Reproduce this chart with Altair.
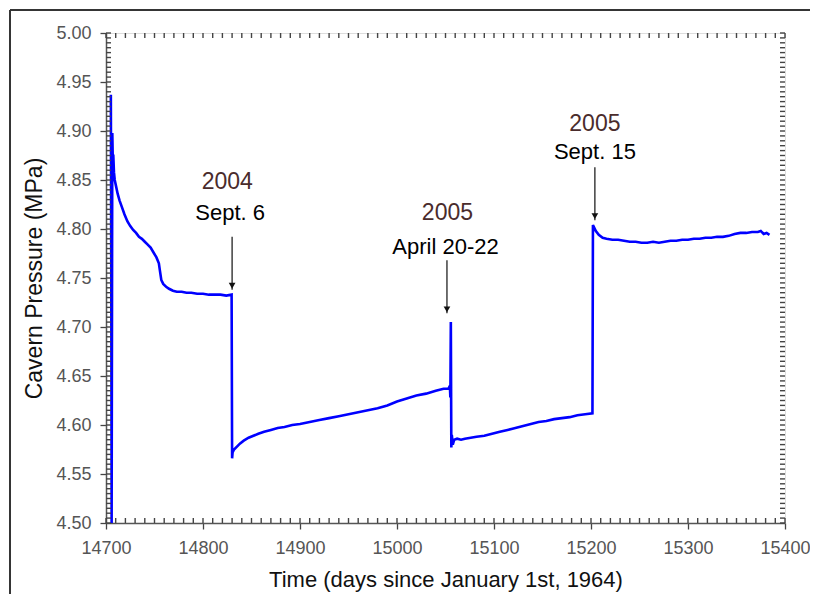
import altair as alt
import pandas as pd

# ---- data ----
days = [14705.0, 14705.4, 14705.8, 14706.5, 14707.0, 14707.5, 14708.2, 14709.0, 14710.5, 14712.0,
        14714.0, 14716.5, 14719.0, 14722.0, 14725.0, 14728.0, 14731.0, 14734.0, 14737.0, 14740.0,
        14743.0, 14746.0, 14749.0, 14752.0, 14754.5, 14755.5, 14757.0, 14759.0, 14762.0, 14765.0,
        14769.0, 14773.0, 14778.0, 14783.0, 14788.0, 14794.0, 14800.0, 14806.0, 14812.0, 14818.0,
        14824.0, 14829.5, 14830.0, 14830.5, 14832.0, 14835.0, 14838.0, 14842.0, 14847.0, 14852.0,
        14857.0, 14863.0, 14870.0, 14877.0, 14884.0, 14892.0, 14900.0, 14910.0, 14920.0, 14930.0,
        14940.0, 14950.0, 14960.0, 14970.0, 14980.0, 14990.0, 15000.0, 15010.0, 15020.0, 15030.0,
        15040.0, 15048.0, 15053.0, 15054.5, 15055.0, 15055.5, 15056.0, 15056.5, 15057.5, 15059.0,
        15062.0, 15066.0, 15070.0, 15076.0, 15082.0, 15090.0, 15098.0, 15106.0, 15114.0, 15122.0,
        15130.0, 15138.0, 15146.0, 15154.0, 15162.0, 15170.0, 15178.0, 15186.0, 15194.0, 15201.5,
        15202.0, 15203.0, 15205.0, 15208.0, 15212.0, 15216.0, 15222.0, 15228.0, 15234.0, 15240.0,
        15246.0, 15252.0, 15258.0, 15264.0, 15270.0, 15276.0, 15282.0, 15288.0, 15294.0, 15300.0,
        15306.0, 15312.0, 15318.0, 15324.0, 15330.0, 15336.0, 15342.0, 15348.0, 15354.0, 15360.0,
        15366.0, 15372.0, 15375.0, 15378.0, 15381.0, 15384.0]
pressure = [4.937, 4.765, 4.500, 4.898, 4.870, 4.876, 4.858, 4.850, 4.843, 4.836,
            4.829, 4.822, 4.815, 4.808, 4.803, 4.799, 4.796, 4.792, 4.790, 4.787,
            4.784, 4.781, 4.776, 4.771, 4.765, 4.758, 4.748, 4.744, 4.741, 4.739,
            4.737, 4.736, 4.736, 4.735, 4.735, 4.734, 4.734, 4.733, 4.733, 4.733,
            4.732, 4.733, 4.566, 4.572, 4.575, 4.578, 4.581, 4.584, 4.587, 4.589,
            4.591, 4.593, 4.595, 4.597, 4.598, 4.600, 4.601, 4.603, 4.605, 4.607,
            4.609, 4.611, 4.613, 4.615, 4.617, 4.620, 4.624, 4.627, 4.630, 4.632,
            4.635, 4.637, 4.637, 4.640, 4.628, 4.705, 4.577, 4.590, 4.580, 4.585,
            4.586, 4.585, 4.586, 4.587, 4.588, 4.589, 4.591, 4.593, 4.595, 4.597,
            4.599, 4.601, 4.603, 4.604, 4.606, 4.607, 4.608, 4.610, 4.611, 4.612,
            4.804, 4.802, 4.798, 4.794, 4.791, 4.790, 4.789, 4.789, 4.788, 4.787,
            4.787, 4.786, 4.786, 4.787, 4.786, 4.787, 4.788, 4.788, 4.789, 4.789,
            4.790, 4.790, 4.791, 4.791, 4.792, 4.792, 4.793, 4.795, 4.796, 4.796,
            4.797, 4.797, 4.798, 4.795, 4.796, 4.794]

x_ticks = [14700, 14800, 14900, 15000, 15100, 15200, 15300, 15400]
y_ticks = [4.50, 4.55, 4.60, 4.65, 4.70, 4.75, 4.80, 4.85, 4.90, 4.95, 5.00]
x_minor = list(range(14700, 15401, 10))
y_minor = [round(4.5 + 0.005 * i, 3) for i in range(101)]

ann_year = ["2004", "2005", "2005"]
ann_date = ["Sept. 6", "April 20-22", "Sept. 15"]
ann_x = [14828, 15050, 15204]
ann_year_x = [14825, 15052, 15204]
ann_year_y = [4.848, 4.816, 4.907]
ann_date_y = [4.816, 4.782, 4.879]
arrow_x = [14830, 15051.5, 15204]
arrow_top = [4.792, 4.768, 4.863]
arrow_tip = [4.738, 4.714, 4.809]

FONT = "Liberation Sans"
W, H = 679, 490
TICK = "#444"
X_TITLE = "Time (days since January 1st, 1964)"
Y_TITLE = "Cavern Pressure (MPa)"

df = pd.DataFrame({"day": days, "p": pressure})
ann = pd.DataFrame({"year": ann_year, "date": ann_date, "x": ann_x, "yx": ann_year_x,
                    "yy": ann_year_y, "dy": ann_date_y, "ax": arrow_x,
                    "atop": arrow_top, "atip": arrow_tip})
xm = pd.DataFrame({"v": x_minor})
ym = pd.DataFrame({"v": y_minor})

xs = alt.Scale(domain=[14700, 15400], nice=False, zero=False)
ys = alt.Scale(domain=[4.5, 5.0], nice=False, zero=False)

x_axis = alt.Axis(orient="bottom", values=x_ticks, format="d", grid=False,
                  tickSize=6, tickColor=TICK, tickWidth=1.3, domainColor="#555", domainWidth=1.5,
                  labelFontSize=18, labelColor="#555", labelPadding=10, labelFont=FONT,
                  labelFlush=False, labelOverlap=False,
                  titleFontSize=22, titleColor="#111", titleFont=FONT,
                  titleFontWeight="normal", titlePadding=12)
y_axis = alt.Axis(orient="left", values=y_ticks, format=".2f", grid=False,
                  tickSize=6, tickColor=TICK, tickWidth=1.3, domainColor="#555", domainWidth=1.5,
                  labelFontSize=18, labelColor="#555", labelPadding=9, labelFont=FONT,
                  labelFlush=False, labelOverlap=False,
                  titleFontSize=23, titleColor="#111", titleFont=FONT,
                  titleFontWeight="normal", titlePadding=9)


def X(field):
    return alt.X(field, type="quantitative", scale=xs, axis=x_axis, title=X_TITLE)


def Y(field):
    return alt.Y(field, type="quantitative", scale=ys, axis=y_axis, title=Y_TITLE)


main = alt.Chart(df).mark_line(color="#0000FF", strokeWidth=2.6, clip=True).encode(
    x=X("day"), y=Y("p"))

# inward minor ticks on all four sides
mt_bottom = alt.Chart(xm).mark_rule(color=TICK, strokeWidth=1.4).encode(
    x=X("v"), y=alt.value(H), y2=alt.value(H - 5))
mt_top = alt.Chart(xm).mark_rule(color=TICK, strokeWidth=1.4).encode(
    x=X("v"), y=alt.value(0), y2=alt.value(5))
mt_left = alt.Chart(ym).mark_rule(color=TICK, strokeWidth=1.4).encode(
    y=Y("v"), x=alt.value(0), x2=alt.value(5))
mt_right = alt.Chart(ym).mark_rule(color=TICK, strokeWidth=1.4).encode(
    y=Y("v"), x=alt.value(W - 5), x2=alt.value(W))

years = alt.Chart(ann).mark_text(font=FONT, fontSize=23, color="#4a2c2c").encode(
    x=X("yx"), y=Y("yy"), text="year:N")
dates = alt.Chart(ann).mark_text(font=FONT, fontSize=22, color="#000").encode(
    x=X("x"), y=Y("dy"), text="date:N")
shafts = alt.Chart(ann).mark_rule(color="#222", strokeWidth=1.3).encode(
    x=X("ax"), y=Y("atop"), y2="atip:Q")
heads = alt.Chart(ann).mark_point(shape="triangle-down", filled=True, color="#111",
                                  size=45, opacity=1, yOffset=-4).encode(
    x=X("ax"), y=Y("atip"))

frame_top = alt.Chart(ann).mark_rule(color="#333", strokeWidth=1.5).encode(
    x=alt.value(-96), x2=alt.value(720), y=alt.value(-23))
frame_left = alt.Chart(ann).mark_rule(color="#333", strokeWidth=1.5).encode(
    x=alt.value(-96), y=alt.value(-23), y2=alt.value(600))

chart = alt.layer(
    main, mt_bottom, mt_top, mt_left, mt_right, shafts, heads, years, dates,
    frame_top, frame_left
).properties(
    width=W, height=H,
    autosize=alt.AutoSizeParams(type="none"),
    padding={"left": 98, "top": 25, "right": 25, "bottom": 71},
).configure_view(stroke="#666", strokeWidth=1.5).configure(background="white")

chart.save("out.html", embed_options={"renderer": "svg", "actions": False})
